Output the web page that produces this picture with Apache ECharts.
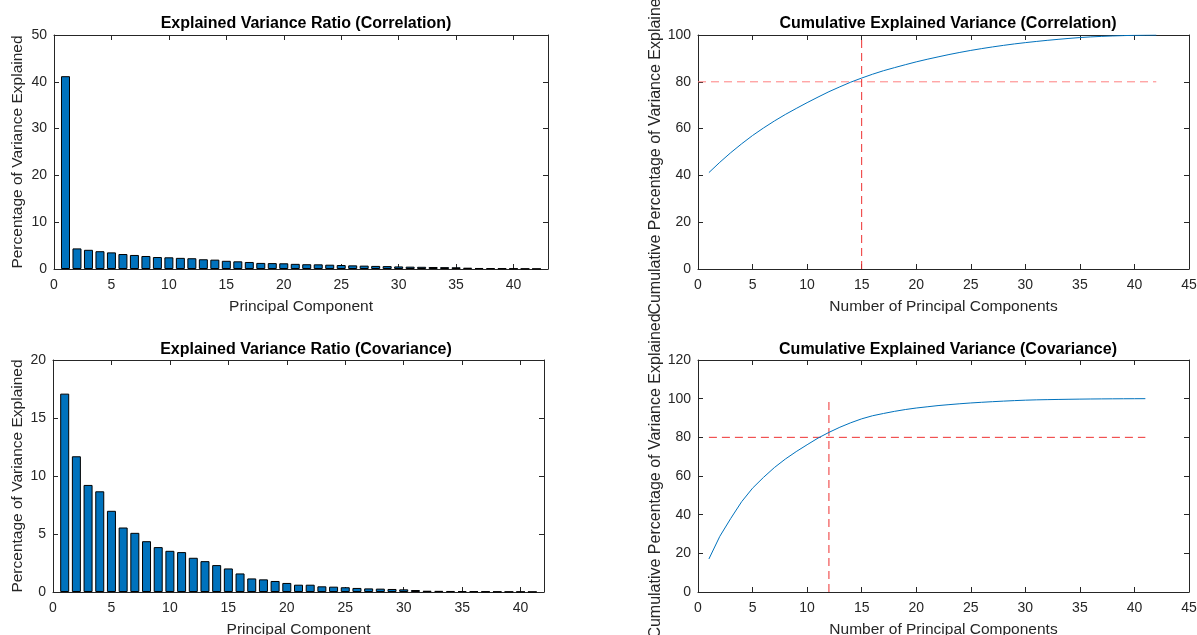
<!DOCTYPE html>
<html>
<head>
<meta charset="utf-8">
<script src="https://cdn.jsdelivr.net/npm/echarts@6/dist/echarts.min.js"></script>
<style>html,body{margin:0;padding:0;background:#fff}#c{width:1197px;height:635px}</style>
</head>
<body>
<div id="c"></div>
<script>
// Explained variance ratio (%) per principal component — correlation-based PCA
var corrRatio = [41.2, 4.4, 4.1, 3.8, 3.55, 3.2, 3.0, 2.78, 2.56, 2.5,
  2.38, 2.3, 2.08, 2.0, 1.75, 1.64, 1.5, 1.3, 1.26, 1.22,
  1.1, 1.02, 1.0, 0.92, 0.85, 0.78, 0.72, 0.66, 0.62, 0.55,
  0.5, 0.47, 0.43, 0.4, 0.37, 0.28, 0.22, 0.18, 0.15, 0.12, 0.08, 0.06];
// Explained variance ratio (%) per principal component — covariance-based PCA
var covRatio = [17.1, 11.7, 9.23, 8.68, 7.0, 5.56, 5.1, 4.38, 3.87, 3.55,
  3.44, 2.95, 2.66, 2.32, 2.03, 1.6, 1.17, 1.09, 0.95, 0.78,
  0.63, 0.63, 0.49, 0.46, 0.41, 0.35, 0.31, 0.29, 0.26, 0.23,
  0.17, 0.11, 0.1, 0.09, 0.08, 0.06, 0.05, 0.04, 0.03, 0.03, 0.02];
var threshold = 80;          // % cumulative variance threshold
var corrComponents = 15;     // components needed (correlation)
var covComponents = 12;      // components needed (covariance)
var xTicksTL = [0, 43, 5];   // min, max, interval
var xTicksBL = [0, 42, 5];
var xTicksR = [0, 45, 5];
var yTicksTL = [0, 50, 10];
var yTicksBL = [0, 20, 5];
var yTicksTR = [0, 100, 20];
var yTicksBR = [0, 120, 20];

function cumsum(a) { var s = 0; return a.map(function (v) { s += v; return +s.toFixed(3); }); }
var corrCum = cumsum(corrRatio);
var covCum = cumsum(covRatio);

var FONT = '"Liberation Sans", Arial, Helvetica, sans-serif';
var AX = '#262626';

var grids = [
  { left: 54, right: 649, top: 35, height: 234 },
  { left: 53, right: 653, top: 360, height: 232 },
  { left: 698, right: 8, top: 35, height: 234 },
  { left: 698, right: 8, top: 360, height: 232 }
].map(function (g) { g.containLabel = false; g.outerBoundsMode = 'none'; return g; });

var xAxes = [], yAxes = [];
function addX(g, t, name) {
  var base = { gridIndex: g, type: 'value', min: t[0], max: t[1], interval: t[2],
    splitLine: { show: false },
    axisLine: { show: true, onZero: false, lineStyle: { color: AX, width: 1 } },
    axisTick: { show: true, inside: true, length: 5, lineStyle: { color: AX } } };
  xAxes.push(Object.assign({}, base, { position: 'bottom', name: name, nameLocation: 'middle', nameGap: 30,
    nameTextStyle: { fontFamily: FONT, fontSize: 15.5, color: AX },
    axisLabel: { fontFamily: FONT, fontSize: 14, color: AX, margin: 9,
      formatter: function (v) { return v % t[2] === 0 ? String(v) : ''; } } }));
  xAxes.push(Object.assign({}, base, { position: 'top', axisLabel: { show: false } }));
}
function addY(g, t, name, fs, gap) {
  var base = { gridIndex: g, type: 'value', min: t[0], max: t[1], interval: t[2],
    splitLine: { show: false },
    axisLine: { show: true, onZero: false, lineStyle: { color: AX, width: 1 } },
    axisTick: { show: true, inside: true, length: 5, lineStyle: { color: AX } } };
  yAxes.push(Object.assign({}, base, { position: 'left', name: name, nameLocation: 'middle', nameGap: gap,
    nameTextStyle: { fontFamily: FONT, fontSize: fs, color: AX },
    axisLabel: { fontFamily: FONT, fontSize: 14, color: AX, margin: 7 } }));
  yAxes.push(Object.assign({}, base, { position: 'right', axisLabel: { show: false } }));
}
addX(0, xTicksTL, 'Principal Component');
addX(1, xTicksBL, 'Principal Component');
addX(2, xTicksR, 'Number of Principal Components');
addX(3, xTicksR, 'Number of Principal Components');
addY(0, yTicksTL, 'Percentage of Variance Explained', 15.5, 28);
addY(1, yTicksBL, 'Percentage of Variance Explained', 15.5, 27);
addY(2, yTicksTR, 'Cumulative Percentage of Variance Explained', 16, 27);
addY(3, yTicksBR, 'Cumulative Percentage of Variance Explained', 16, 27);

function pairs(a) { return a.map(function (v, i) { return [i + 1, v]; }); }
var barStyle = { color: '#0072BD', borderColor: '#000', borderWidth: 1 };
function dashed(xi, yi, data, color) {
  return { type: 'line', xAxisIndex: xi, yAxisIndex: yi, data: data, symbol: 'none', silent: true,
    lineStyle: { color: color, width: 1, type: [8, 5] }, z: 3 };
}

var titleStyle = { fontFamily: FONT, fontSize: 16, fontWeight: 'bold', color: '#000' };
var option = {
  animation: false,
  backgroundColor: '#fff',
  title: [
    { text: 'Explained Variance Ratio (Correlation)', left: 301, top: 11, textAlign: 'center', textStyle: titleStyle },
    { text: 'Explained Variance Ratio (Covariance)', left: 301, top: 337, textAlign: 'center', textStyle: titleStyle },
    { text: 'Cumulative Explained Variance (Correlation)', left: 943, top: 11, textAlign: 'center', textStyle: titleStyle },
    { text: 'Cumulative Explained Variance (Covariance)', left: 943, top: 337, textAlign: 'center', textStyle: titleStyle }
  ],
  grid: grids,
  xAxis: xAxes,
  yAxis: yAxes,
  series: [
    { type: 'bar', xAxisIndex: 0, yAxisIndex: 0, data: pairs(corrRatio), barWidth: 9, itemStyle: barStyle },
    { type: 'bar', xAxisIndex: 2, yAxisIndex: 2, data: pairs(covRatio), barWidth: 9, itemStyle: barStyle },
    { type: 'line', xAxisIndex: 4, yAxisIndex: 4, data: pairs(corrCum), symbol: 'none',
      lineStyle: { color: '#0072BD', width: 1 }, z: 4 },
    dashed(4, 4, [[0, threshold], [corrRatio.length, threshold]], '#ff8080'),
    dashed(4, 4, [[corrComponents, 0], [corrComponents, 100]], '#ee3030'),
    { type: 'line', xAxisIndex: 6, yAxisIndex: 6, data: pairs(covCum), symbol: 'none',
      lineStyle: { color: '#0072BD', width: 1 }, z: 4 },
    dashed(6, 6, [[1, threshold], [covRatio.length, threshold]], '#ee3030'),
    dashed(6, 6, [[covComponents, 0], [covComponents, 100]], '#ee3030')
  ]
};
echarts.init(document.getElementById('c')).setOption(option);
</script>
</body>
</html>
